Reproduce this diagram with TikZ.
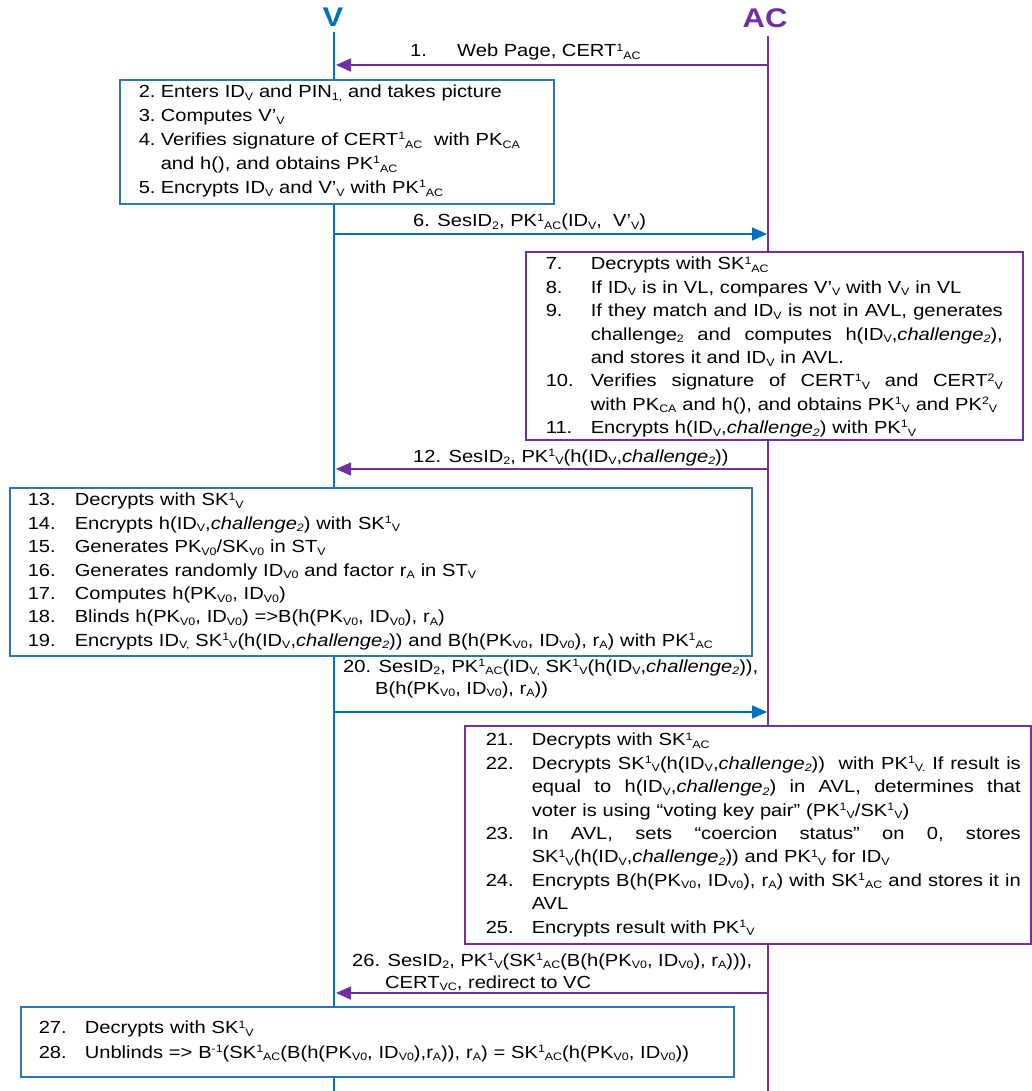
\documentclass[tikz,border=0pt]{standalone}
\usepackage{fontspec}
\setmainfont{Liberation Sans}[FakeStretch=1.15]
\usetikzlibrary{arrows.meta}
\definecolor{vblue}{RGB}{0,112,192}
\definecolor{bblue}{RGB}{46,117,182}
\definecolor{apurple}{RGB}{112,48,160}
\newlength\numw
\newlength\txtw
\newcommand\sbs[1]{\raisebox{-2.6pt}{\fontsize{10.8}{10}\selectfont #1}}
\newcommand\sps[1]{\raisebox{5.8pt}{\fontsize{10.8}{10}\selectfont #1}}
\newcommand\chal{\textit{challenge\sbs{2}}}
\newcommand\Ln[2]{\hbox{\makebox[\numw][l]{#1}#2}}
\newcommand\Lj[2]{\hbox{\makebox[\numw][l]{#1}\hbox to\txtw{\frenchspacing\spaceskip=\fontdimen2\font plus 1fil\relax #2}}}
\newcommand\txtfont{\fontsize{17.5}{23.4}\selectfont}
\begin{document}
\begin{tikzpicture}[x=1pt,y=-1pt,
  hdr/.style={font=\bfseries\fontsize{27}{27}\selectfont, inner sep=0pt, anchor=base},
  vlife/.style={draw=vblue, line width=2.8pt},
  alife/.style={draw=apurple, line width=2.3pt},
  vmsg/.style={draw=vblue, line width=1.6pt, -{Triangle[length=15pt,width=13pt]}},
  amsg/.style={draw=apurple, line width=1.6pt, -{Triangle[length=15pt,width=13pt]}},
  boxbase/.style={fill=white, line width=1.6pt, anchor=north west, inner ysep=0pt, font=\txtfont},
  vbox/.style={boxbase, draw=bblue},
  abox/.style={boxbase, draw=apurple},
  lbl/.style={inner sep=0pt, anchor=base west, font=\txtfont}]
\useasboundingbox (0,0) rectangle (1032,1091);
\fill[white] (0,0) rectangle (1032,1091);

% participants
\node[hdr, text=vblue] (V) at (333,27) {V};
\node[hdr, text=apurple] (AC) at (765,28) {AC};
\coordinate (Vtop) at (334,32);
\coordinate (Vbot) at (334,1091);
\coordinate (ACtop) at (768,36);
\coordinate (ACbot) at (768,1091);
\draw[vlife] (Vtop) -- (Vbot);
\draw[alife] (ACtop) -- (ACbot);

% message end points
\coordinate (a1s) at (768,65);  \coordinate (a1e) at (336,65);
\coordinate (a6s) at (334,234); \coordinate (a6e) at (767,234);
\coordinate (a12s) at (768,469); \coordinate (a12e) at (336,469);
\coordinate (a20s) at (334,712); \coordinate (a20e) at (767,712);
\coordinate (a26s) at (768,993); \coordinate (a26e) at (336,993);

% box 1 (V)
\node[vbox, inner xsep=19pt, text width=396pt, text height=18pt, text depth=106pt] (B1) at (119,79) {%
 \setlength\numw{22pt}%
 \vtop{\baselineskip=24pt
  \Ln{2.}{Enters ID\sbs{V} and PIN\sbs{1,} and takes picture}
  \Ln{3.}{Computes V’\sbs{V}}
  \Ln{4.}{Verifies signature of CERT\sps{1}\sbs{AC}\ \ with PK\sbs{CA}}
  \Ln{}{and h(), and obtains PK\sps{1}\sbs{AC}}
  \Ln{5.}{Encrypts ID\sbs{V} and V’\sbs{V} with PK\sps{1}\sbs{AC}}}};

% box 2 (AC)
\node[abox, inner xsep=20pt, text width=457pt, text height=18pt, text depth=170pt] (B2) at (525,251) {%
 \setlength\numw{45pt}\setlength\txtw{412pt}%
 \vtop{\baselineskip=23.4pt
  \Ln{7.}{Decrypts with SK\sps{1}\sbs{AC}}
  \Ln{8.}{If ID\sbs{V} is in VL, compares V’\sbs{V} with V\sbs{V} in VL}
  \Lj{9.}{If they match and ID\sbs{V} is not in AVL, generates}
  \Lj{}{challenge\sbs{2} and computes h(ID\sbs{V},\chal),}
  \Ln{}{and stores it and ID\sbs{V} in AVL.}
  \Lj{10.}{Verifies signature of CERT\sps{1}\sbs{V} and CERT\sps{2}\sbs{V}}
  \Ln{}{with PK\sbs{CA} and h(), and obtains PK\sps{1}\sbs{V} and PK\sps{2}\sbs{V}}
  \Ln{11.}{Encrypts h(ID\sbs{V},\chal) with PK\sps{1}\sbs{V}}}};

% box 3 (V)
\node[vbox, inner xsep=18pt, text width=706pt, text height=18pt, text depth=150pt] (B3) at (9,487) {%
 \setlength\numw{47pt}%
 \vtop{\baselineskip=23.4pt
  \Ln{13.}{Decrypts with SK\sps{1}\sbs{V}}
  \Ln{14.}{Encrypts h(ID\sbs{V},\chal) with SK\sps{1}\sbs{V}}
  \Ln{15.}{Generates PK\sbs{V0}/SK\sbs{V0} in ST\sbs{V}}
  \Ln{16.}{Generates randomly ID\sbs{V0} and factor r\sbs{A} in ST\sbs{V}}
  \Ln{17.}{Computes h(PK\sbs{V0}, ID\sbs{V0})}
  \Ln{18.}{Blinds h(PK\sbs{V0}, ID\sbs{V0}) =>B(h(PK\sbs{V0}, ID\sbs{V0}), r\sbs{A})}
  \Ln{19.}{Encrypts ID\sbs{V,} SK\sps{1}\sbs{V}(h(ID\sbs{V},\chal)) and B(h(PK\sbs{V0}, ID\sbs{V0}), r\sbs{A}) with PK\sps{1}\sbs{AC}}}};

% box 4 (AC)
\node[abox, inner xsep=21pt, text width=524pt, text height=20pt, text depth=198pt] (B4) at (464,725) {%
 \setlength\numw{46pt}\setlength\txtw{489pt}%
 \vtop{\baselineskip=23.4pt
  \Ln{21.}{Decrypts with SK\sps{1}\sbs{AC}}
  \Lj{22.}{Decrypts SK\sps{1}\sbs{V}(h(ID\sbs{V},\chal))\ \ with PK\sps{1}\sbs{V.} If result is}
  \Lj{}{equal to h(ID\sbs{V},\chal) in AVL, determines that}
  \Ln{}{voter is using “voting key pair" (PK\sps{1}\sbs{V}/SK\sps{1}\sbs{V})}
  \Lj{23.}{In AVL, sets “coercion status" on 0, stores}
  \Ln{}{SK\sps{1}\sbs{V}(h(ID\sbs{V},\chal)) and PK\sps{1}\sbs{V} for ID\sbs{V}}
  \Lj{24.}{Encrypts B(h(PK\sbs{V0}, ID\sbs{V0}), r\sbs{A}) with SK\sps{1}\sbs{AC} and stores it in}
  \Ln{}{AVL}
  \Ln{25.}{Encrypts result with PK\sps{1}\sbs{V}}}};

% box 5 (V)
\node[vbox, inner xsep=18pt, text width=677pt, text height=27pt, text depth=43pt] (B5) at (20,1006) {%
 \setlength\numw{46pt}%
 \vtop{\baselineskip=24.5pt
  \Ln{27.}{Decrypts with SK\sps{1}\sbs{V}}
  \Ln{28.}{Unblinds => B\sps{-1}(SK\sps{1}\sbs{AC}(B(h(PK\sbs{V0}, ID\sbs{V0}),r\sbs{A})), r\sbs{A}) = SK\sps{1}\sbs{AC}(h(PK\sbs{V0}, ID\sbs{V0}))}}};

% messages
\draw[amsg] (a1s) -- (a1e);
\draw[vmsg] (a6s) -- (a6e);
\draw[amsg] (a12s) -- (a12e);
\draw[vmsg] (a20s) -- (a20e);
\draw[amsg] (a26s) -- (a26e);

\node[lbl] (L1) at (410,57) {\makebox[47pt][l]{1.}Web Page, CERT\sps{1}\sbs{AC}};
\node[lbl] (L6) at (413,227) {6. SesID\sbs{2}, PK\sps{1}\sbs{AC}(ID\sbs{V},\ \ V’\sbs{V})};
\node[lbl] (L12) at (413,462) {12. SesID\sbs{2}, PK\sps{1}\sbs{V}(h(ID\sbs{V},\chal))};
\node[lbl] (L20) at (343,672) {\vtop{\baselineskip=22pt
  \hbox{20. SesID\sbs{2}, PK\sps{1}\sbs{AC}(ID\sbs{V,} SK\sps{1}\sbs{V}(h(ID\sbs{V},\chal)),}
  \hbox{\hspace*{32pt}B(h(PK\sbs{V0}, ID\sbs{V0}), r\sbs{A}))}}};
\node[lbl] (L26) at (352,966) {\vtop{\baselineskip=22pt
  \hbox{26. SesID\sbs{2}, PK\sps{1}\sbs{V}(SK\sps{1}\sbs{AC}(B(h(PK\sbs{V0}, ID\sbs{V0}), r\sbs{A}))),}
  \hbox{\hspace*{33pt}CERT\sbs{VC}, redirect to VC}}};
\end{tikzpicture}
\end{document}
